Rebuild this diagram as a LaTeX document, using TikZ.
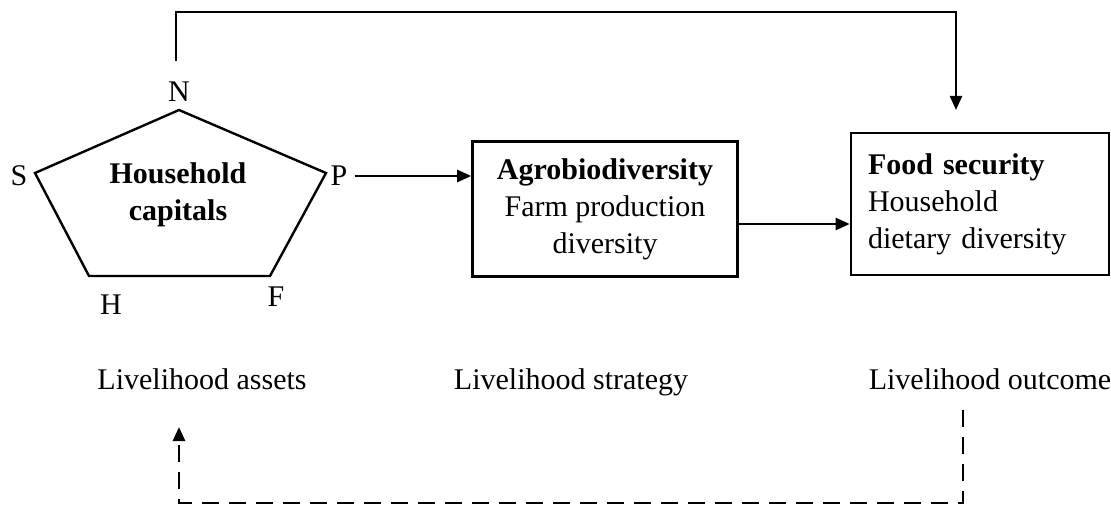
\documentclass[tikz,border=0pt]{standalone}
\usepackage{fontspec}
\setmainfont{Liberation Serif}
\usetikzlibrary{arrows.meta, positioning}

\begin{document}
\begin{tikzpicture}[
      x=1pt, y=-1pt,
      line width=2.4pt,
      every node/.style={font=\fontsize{30}{37}\selectfont, inner sep=2pt},
      box/.style={draw, line width=2.6pt},
      arr/.style={-{Triangle[length=14pt,width=12pt]}},
      fbline/.style={arr, line width=2.8pt, dash pattern=on 17pt off 10pt}
    ]
    \useasboundingbox (0,0) rectangle (1111,508);

    % the five capitals
    \coordinate (pN) at (179,110);
    \coordinate (pP) at (326,173);
    \coordinate (pF) at (270,276);
    \coordinate (pH) at (89,276);
    \coordinate (pS) at (35,173);
    \draw[line join=miter] (pN) -- (pP) -- (pF) -- (pH) -- (pS) -- cycle;

    \node (N) at (179,92) {N};
    \node (P) at (339,176) {P};
    \node (F) at (276,297) {F};
    \node (H) at (111,305) {H};
    \node (S) at (19,176) {S};
    \node[align=center, font=\fontsize{30}{37}\selectfont\bfseries] (capitals) at (178,195) {Household\\capitals};

    \node[box, align=center, minimum width=265pt, minimum height=135pt] (agro) at (605,209)
        {\textbf{Agrobiodiversity}\\Farm production\\diversity};
    \node[box, align=left, text width=224pt, inner xsep=17pt, minimum height=142pt] (food) at (980,204)
        {\textbf{Food security}\\Household\\dietary diversity};

    \node (assets) at (202,379) {Livelihood assets};
    \node (strategy) at (571,382) {Livelihood strategy};
    \node (outcome) at (990,379) {Livelihood outcome};

    % connectors
    \coordinate (top0) at (176,61);
    \coordinate (top1) at (956,110);
    \coordinate (fb0) at (963,410);
    \coordinate (fb1) at (179,427);

    \draw[arr] ([xshift=4pt]P.east) -- (P.east -| agro.west);
    \draw[arr] ([yshift=-15pt]agro.east) -- ([yshift=-15pt]agro.east -| food.west);
    \draw[arr] (top0) -- ++(0,-49) -| (top1);
    \draw[fbline] (fb0) -- ++(0,93) -| (fb1);
  \end{tikzpicture}
\end{document}
